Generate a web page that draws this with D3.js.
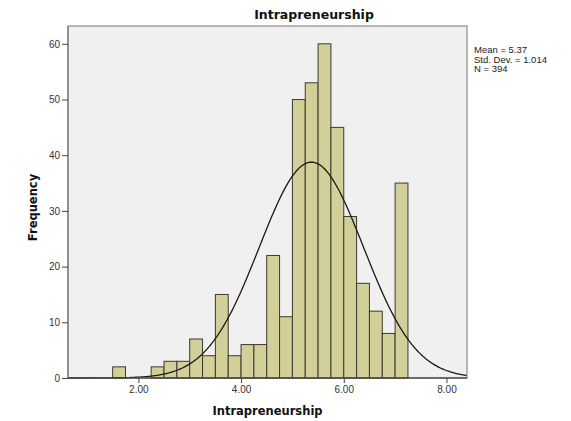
<!DOCTYPE html>
<html>
<head>
<meta charset="utf-8">
<script src="https://cdn.jsdelivr.net/npm/d3@7/dist/d3.min.js"></script>
<style>
  body { margin: 0; background: #fff; }
  svg { display: block; font-family: Arial, "Liberation Sans", sans-serif; }
</style>
</head>
<body>
<svg id="chart" width="571" height="421"></svg>
<script>
// ---- data ----
const binLower = [1.50, 2.25, 2.50, 2.75, 3.00, 3.25, 3.50, 3.75, 4.00, 4.25, 4.50, 4.75,
                  5.00, 5.25, 5.50, 5.75, 6.00, 6.25, 6.50, 6.75, 7.00];
const binCounts = [2, 2, 3, 3, 7, 4, 15, 4, 6, 6, 22, 11,
                   50, 53, 60, 45, 29, 17, 12, 8, 35];
const binWidth = 0.25;
const xTickValues = [2, 4, 6, 8];
const yTickValues = [0, 10, 20, 30, 40, 50, 60];
const statLines = ["Mean = 5.37", "Std. Dev. = 1.014", "N = 394"];
const mean = 5.37, sd = 1.014, n = 394;
const titleText = "Intrapreneurship";
const xLabel = "Intrapreneurship";
const yLabel = "Frequency";

// ---- layout ----
const svg = d3.select("#chart");
const L = 68, R = 467, T = 26, B = 378;
const x = d3.scaleLinear().domain([0.63, 8.40]).range([L, R]);
const y = d3.scaleLinear().domain([0, 63.2]).range([B, T]);
const boldFont = "'DejaVu Sans', Verdana, sans-serif";

// plot background
svg.append("rect").attr("x", L).attr("y", T).attr("width", R - L).attr("height", B - T)
  .attr("fill", "#f0f0f0");

// bars
const bins = binLower.map((x0, i) => ({ x0, x1: x0 + binWidth, count: binCounts[i] }));
svg.append("g").selectAll("rect").data(bins).join("rect")
  .attr("x", d => x(d.x0))
  .attr("y", d => y(d.count))
  .attr("width", d => x(d.x1) - x(d.x0))
  .attr("height", d => y(0) - y(d.count))
  .attr("fill", "#d3cf99")
  .attr("stroke", "#3a3a30")
  .attr("stroke-width", 1);

// normal curve
const scaleN = n * binWidth / (sd * Math.sqrt(2 * Math.PI));
const curvePts = d3.range(0, 301).map(i => {
  const v = x.domain()[0] + (x.domain()[1] - x.domain()[0]) * i / 300;
  return [v, scaleN * Math.exp(-0.5 * Math.pow((v - mean) / sd, 2))];
});
svg.append("path").datum(curvePts)
  .attr("fill", "none").attr("stroke", "#1a1a1a").attr("stroke-width", 1.3)
  .attr("d", d3.line().x(d => x(d[0])).y(d => y(d[1])));

// frame
svg.append("rect").attr("x", L).attr("y", T).attr("width", R - L).attr("height", B - T)
  .attr("fill", "none").attr("stroke", "#8a8a8a").attr("stroke-width", 1.2);

// axes
const xAxis = svg.append("g").attr("transform", `translate(0,${B})`)
  .call(d3.axisBottom(x).tickValues(xTickValues).tickFormat(d3.format(".2f")).tickSize(5).tickPadding(3));
const yAxis = svg.append("g").attr("transform", `translate(${L},0)`)
  .call(d3.axisLeft(y).tickValues(yTickValues).tickSize(6).tickPadding(2));
[xAxis, yAxis].forEach(g => {
  g.selectAll("text").attr("fill", "#333").style("font-size", "10px")
    .style("font-family", "Arial, 'Liberation Sans', sans-serif");
  g.selectAll("line").attr("stroke", "#444");
});
xAxis.select(".domain").attr("stroke", "#222").attr("stroke-width", 1.2).attr("d", `M${L},0H${R}`);
yAxis.select(".domain").attr("stroke", "#777").attr("stroke-width", 1.2).attr("d", `M0,${T}V${B}`);

// titles
svg.append("text").attr("x", 314).attr("y", 19).attr("text-anchor", "middle")
  .style("font-family", boldFont)
  .style("font-size", "12.5px").style("font-weight", "bold").attr("fill", "#111").text(titleText);
svg.append("text").attr("x", 267.5).attr("y", 415).attr("text-anchor", "middle")
  .style("font-family", boldFont)
  .style("font-size", "11.5px").style("font-weight", "bold").attr("fill", "#111").text(xLabel);
svg.append("text").attr("transform", `translate(37,207.5) rotate(-90)`)
  .attr("text-anchor", "middle")
  .style("font-family", boldFont)
  .style("font-size", "11.5px").style("font-weight", "bold").attr("fill", "#111").text(yLabel);

// stats
svg.append("g").selectAll("text").data(statLines).join("text")
  .attr("x", 474).attr("y", (d, i) => 53 + i * 9.5)
  .style("font-size", "9.5px").attr("fill", "#222").text(d => d);
</script>
</body>
</html>
